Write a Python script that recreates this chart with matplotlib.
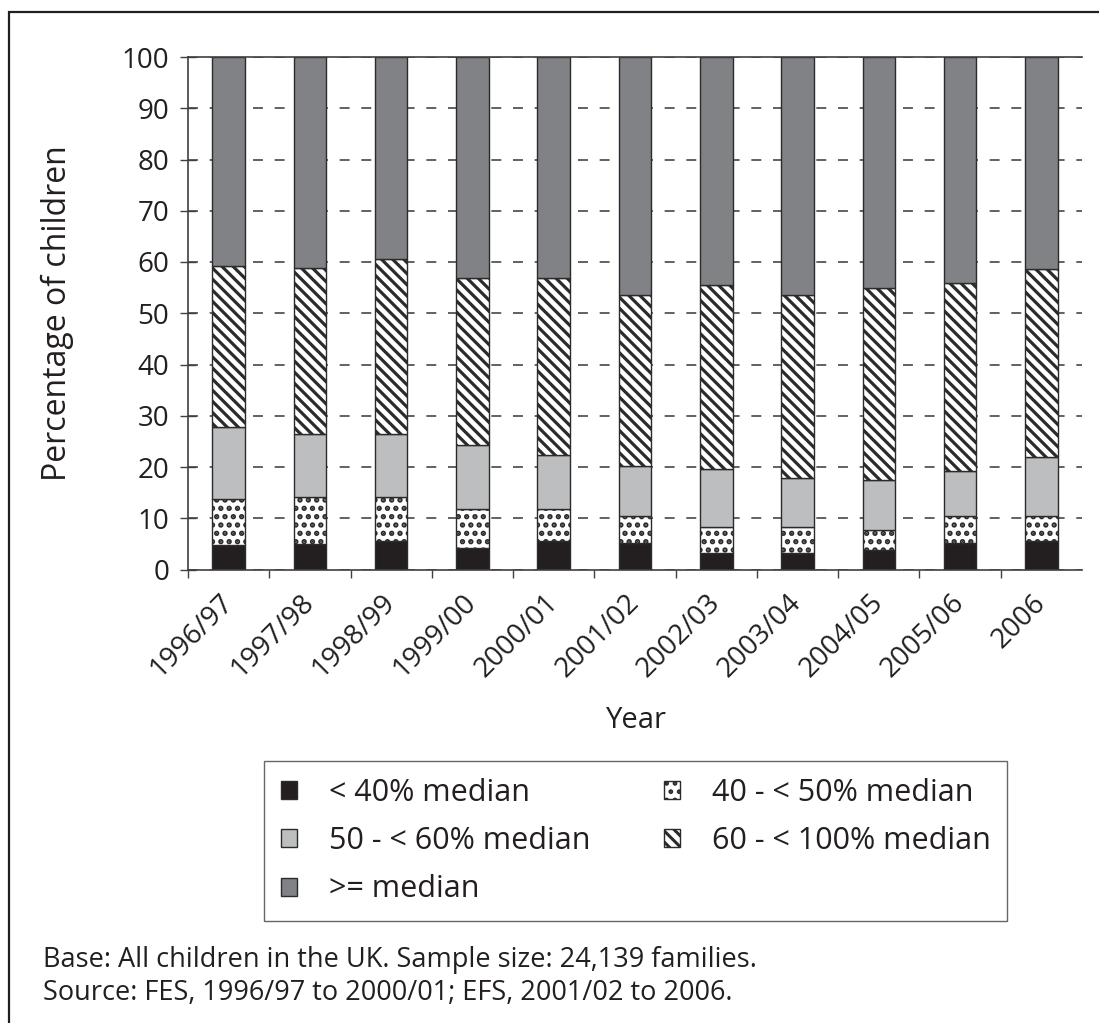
import matplotlib
matplotlib.use("Agg")
import matplotlib.pyplot as plt
from matplotlib.patches import Patch, Rectangle
import numpy as np

plt.rcParams['font.family'] = ['Open Sans', 'DejaVu Sans']
plt.rcParams['hatch.linewidth'] = 2.2

years = ['1996/97', '1997/98', '1998/99', '1999/00', '2000/01', '2001/02',
         '2002/03', '2003/04', '2004/05', '2005/06', '2006']

# Share of children in each income band (percent)
below_40 = [4.7, 5.0, 5.6, 4.2, 5.6, 5.2, 3.3, 3.3, 3.8, 5.2, 5.6]
from_40_to_50 = [9.1, 9.2, 8.6, 7.7, 6.3, 5.3, 5.0, 5.0, 4.0, 5.3, 4.9]
from_50_to_60 = [14.1, 12.3, 12.3, 12.4, 10.5, 9.6, 11.3, 9.5, 9.6, 8.8, 11.4]
from_60_to_100 = [31.3, 32.3, 34.1, 32.5, 34.4, 33.5, 35.9, 35.8, 37.6, 36.6, 36.8]
above_median = [40.8, 41.2, 39.4, 43.2, 43.2, 46.4, 44.5, 46.4, 45.0, 44.1, 41.3]

band_labels = ['< 40% median', '40 - < 50% median', '50 - < 60% median',
               '60 - < 100% median', '>= median']

TEXT = '#231f20'
EDGE = '#2b2b2b'
styles = [
    dict(facecolor='#231f20', hatch=None, hlw=1.0),
    dict(facecolor='white', hatch='..', hlw=2.6),
    dict(facecolor='#bcbec0', hatch=None, hlw=1.0),
    dict(facecolor='white', hatch='\\\\\\', hlw=2.3),
    dict(facecolor='#808285', hatch=None, hlw=1.0),
]


def set_hlw(patch, lw):
    if hasattr(patch, 'set_hatch_linewidth'):
        patch.set_hatch_linewidth(lw)


W, H = 1099, 1023
fig = plt.figure(figsize=(W / 100, H / 100), dpi=100)
ax = fig.add_axes([188 / W, 1 - 569.5 / H, (1082 - 188) / W, (569.5 - 57) / H])

x = np.arange(len(years))
series = [below_40, from_40_to_50, from_50_to_60, from_60_to_100, above_median]
bottom = np.zeros(len(years))
for vals, st in zip(series, styles):
    vals = np.array(vals)
    bars = ax.bar(x, vals, width=0.40, bottom=bottom, facecolor=st['facecolor'],
                  hatch=st['hatch'], edgecolor=EDGE, linewidth=1.0, zorder=2)
    for b in bars:
        set_hlw(b, st['hlw'])
    bottom += vals

ax.set_xlim(-0.5, len(years) - 0.5)
ax.set_ylim(0, 100)
ax.set_yticks(np.arange(0, 101, 10))
ax.tick_params(axis='y', direction='inout', length=11, width=1.0, color='#404040',
               labelsize=20, labelcolor=TEXT, pad=8)

# category labels at centres, tick marks on category boundaries
ax.set_xticks(x)
ax.set_xticklabels(years, rotation=45, ha='right', va='center',
                   rotation_mode='anchor', fontsize=20, color=TEXT)
ax.tick_params(axis='x', which='major', length=0, pad=21)
ax.set_xticks(np.arange(-0.5, len(years) - 1, 1.0), minor=True)
ax.tick_params(axis='x', which='minor', direction='out', length=6, width=1.0,
               color='#404040')

ax.yaxis.grid(True, linestyle=(0, (5.5, 6.5)), color='#555555', linewidth=1.3)
ax.set_axisbelow(True)
for s in ['left', 'top', 'bottom']:
    ax.spines[s].set_color('#404040')
    ax.spines[s].set_linewidth(1.2)
ax.spines['right'].set_visible(False)

fig.text(57 / W, 1 - 313 / H, 'Percentage of children', rotation=90,
         ha='center', va='center', fontsize=23, color=TEXT)
fig.text(636 / W, 1 - 720 / H, 'Year', ha='center', va='center',
         fontsize=21, color=TEXT)

handles = []
for st in styles:
    h = Patch(facecolor=st['facecolor'], hatch=st['hatch'], edgecolor=EDGE,
              linewidth=1.0)
    set_hlw(h, min(st['hlw'], 1.8))
    handles.append(h)
order = [0, 2, 4, 1, 3]
leg = fig.legend([handles[i] for i in order], [band_labels[i] for i in order],
                 loc='upper left', bbox_to_anchor=(264 / W, 1 - 761 / H),
                 ncol=2, fontsize=22, frameon=True, fancybox=False,
                 edgecolor='#404040', handlelength=0.52, handleheight=0.52,
                 handletextpad=1.05, columnspacing=2.4, labelspacing=0.6,
                 borderpad=0.55, borderaxespad=0)
leg.get_frame().set_linewidth(1.0)
for t in leg.get_texts():
    t.set_color(TEXT)

fig.text(43 / W, 1 - 967 / H, 'Base: All children in the UK. Sample size: 24,139 families.',
         ha='left', va='baseline', fontsize=19.5, color=TEXT)
fig.text(43 / W, 1 - 1000 / H, 'Source: FES, 1996/97 to 2000/01; EFS, 2001/02 to 2006.',
         ha='left', va='baseline', fontsize=19.5, color=TEXT)

fig.add_artist(Rectangle((9 / W, -0.1), 1.5, 1 - 12 / H + 0.1, transform=fig.transFigure,
                         fill=False, edgecolor=TEXT, linewidth=1.6, clip_on=False))

fig.savefig('out.png', dpi=100, facecolor='white')
